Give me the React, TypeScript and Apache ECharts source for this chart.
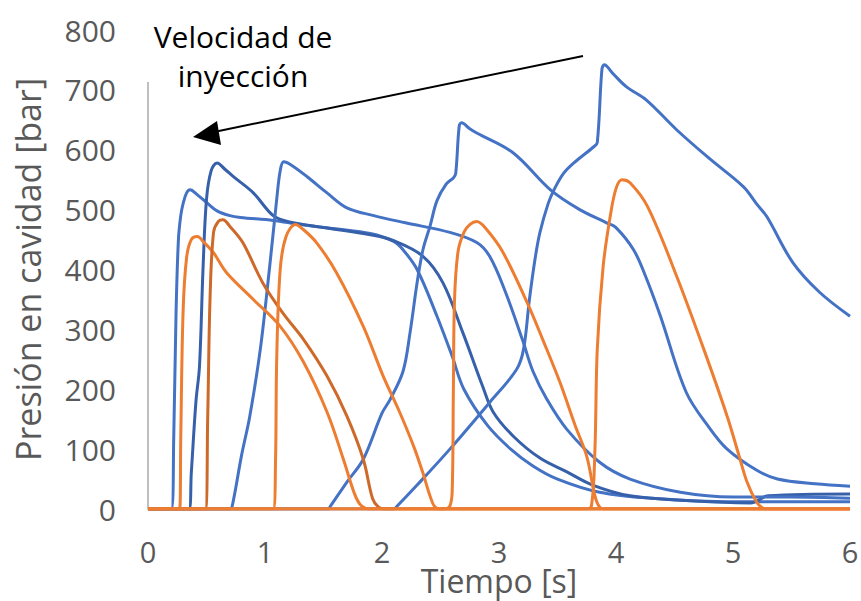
import React, { useEffect, useRef } from "react";
import * as echarts from "echarts";

// Tick settings
const xTicks = { min: 0, max: 6, interval: 1 };
const yTicks = { min: 0, max: 800, interval: 100 };

const xTitle = "Tiempo [s]";
const yTitle = "Presión en cavidad [bar]";
const noteLines = ["Velocidad de", "inyección"];

// Blue curves (one per injection speed)
const blue1: number[][] = [
  [0, 0], [0.2, 0], [0.22, 120], [0.24, 330], [0.26, 450], [0.28, 490], [0.3, 510], [0.33, 528], [0.36, 533],
  [0.42, 525], [0.5, 512], [0.59, 498], [0.7, 490], [0.79, 487], [1.07, 482], [1.3, 475], [1.6, 468],
  [1.9, 460], [2.1, 447], [2.18, 433], [2.3, 400], [2.47, 322], [2.6, 255], [2.7, 200], [2.9, 140],
  [3.1, 100], [3.29, 72], [3.5, 50], [3.86, 28], [4.3, 18], [5, 12], [6, 12],
];
const blue2: number[][] = [
  [0, 0], [0.35, 0], [0.37, 60], [0.41, 180], [0.44, 238], [0.47, 400], [0.5, 517], [0.54, 565], [0.59, 578],
  [0.66, 567], [0.73, 555], [0.9, 528], [1.07, 490], [1.2, 480], [1.5, 470], [1.9, 458], [2.1, 448],
  [2.35, 422], [2.52, 378], [2.69, 295], [2.86, 205], [2.95, 162], [3.12, 122], [3.35, 85], [3.58, 62],
  [3.8, 40], [4.12, 22], [4.6, 14], [5.15, 10], [5.3, 22], [6, 25],
];
const blue3: number[][] = [
  [0, 0], [0.7, 0], [0.72, 5], [0.8, 90], [0.87, 155], [0.96, 267], [1.04, 405], [1.1, 517], [1.13, 565],
  [1.16, 580], [1.22, 575], [1.36, 555], [1.53, 528], [1.7, 503], [1.93, 490], [2.2, 478], [2.58, 462],
  [2.81, 445], [2.92, 422], [3.05, 365], [3.2, 283], [3.29, 230], [3.41, 183], [3.58, 133], [3.86, 78],
  [4.12, 50], [4.55, 28], [5, 20], [5.5, 20], [6, 18],
];
const blue4: number[][] = [
  [0, 0], [1.54, 0], [1.56, 5], [1.7, 45], [1.84, 83], [2.0, 160], [2.07, 183], [2.18, 230], [2.24, 295],
  [2.3, 378], [2.35, 433], [2.41, 472], [2.47, 515], [2.55, 543], [2.61, 553], [2.63, 560], [2.66, 640],
  [2.68, 645], [2.75, 635], [2.81, 628], [3.12, 595], [3.44, 533], [3.69, 500], [3.92, 478], [4.0, 470],
  [4.15, 433], [4.25, 390], [4.38, 322], [4.6, 195], [4.8, 135], [4.95, 100], [5.2, 65], [5.38, 50],
  [5.7, 42], [6, 38],
];
const blue5: number[][] = [
  [0, 0], [2.1, 0], [2.13, 5], [2.3, 40], [2.58, 100], [2.92, 178], [3.15, 233], [3.21, 267], [3.26, 350],
  [3.31, 420], [3.35, 462], [3.42, 510], [3.47, 533], [3.55, 560], [3.64, 578], [3.81, 605], [3.84, 612],
  [3.88, 735], [3.9, 742], [3.97, 728], [4.09, 705], [4.26, 683], [4.52, 633], [4.8, 585], [5.09, 538],
  [5.2, 510], [5.29, 488], [5.51, 412], [5.74, 362], [6, 322],
];

// Orange curves
const orange1: number[][] = [
  [0, 0], [0.27, 0], [0.28, 120], [0.3, 330], [0.33, 420], [0.37, 450], [0.42, 455], [0.48, 445],
  [0.56, 428], [0.67, 395], [0.9, 350], [1.13, 305], [1.33, 245], [1.53, 162], [1.67, 83], [1.76, 28],
  [1.81, 8], [1.86, 1], [1.9, 0], [6, 0],
];
const orange2: number[][] = [
  [0, 0], [0.49, 0], [0.51, 150], [0.53, 350], [0.56, 462], [0.6, 480], [0.64, 483], [0.7, 472],
  [0.81, 445], [0.98, 378], [1.15, 328], [1.33, 283], [1.53, 222], [1.7, 155], [1.84, 83], [1.92, 17],
  [1.97, 3], [2.02, 0], [6, 0],
];
const orange3: number[][] = [
  [0, 0], [1.07, 0], [1.09, 80], [1.1, 250], [1.13, 400], [1.18, 455], [1.26, 475], [1.32, 468],
  [1.44, 445], [1.61, 395], [1.84, 305], [2.01, 222], [2.15, 162], [2.27, 105], [2.35, 60], [2.41, 22],
  [2.45, 4], [2.5, 0], [6, 0],
];
const orange4: number[][] = [
  [0, 0], [2.53, 0], [2.58, 5], [2.6, 30], [2.61, 200], [2.62, 350], [2.65, 430], [2.7, 462], [2.75, 475],
  [2.81, 480], [2.88, 470], [3.03, 430], [3.24, 345], [3.38, 280], [3.52, 212], [3.65, 140], [3.75, 88],
  [3.82, 22], [3.86, 3], [3.9, 0], [6, 0],
];
const orange5: number[][] = [
  [0, 0], [3.74, 0], [3.79, 5], [3.82, 100], [3.84, 267], [3.89, 405], [3.95, 488], [4.0, 535], [4.05, 550],
  [4.12, 545], [4.27, 505], [4.52, 388], [4.75, 267], [4.95, 155], [5.05, 90], [5.12, 45], [5.2, 12],
  [5.25, 2], [5.3, 0], [6, 0],
];

const BLUE = "#4472C4";
const BLUE_DARK = "#3760AA";
const ORANGE = "#ED7D31";
const ORANGE_DARK = "#CD6A2A";
const GRAY = "#595959";
const FONT = "'Open Sans', 'Liberation Sans', sans-serif";

function lineSeries(name: string, data: number[][], color: string) {
  return {
    name,
    type: "line",
    data,
    showSymbol: false,
    smooth: 0.35,
    lineStyle: { color, width: 3 },
    emphasis: { disabled: true },
  };
}

export default function App() {
  const ref = useRef<HTMLDivElement>(null);
  useEffect(() => {
    if (!ref.current) return;
    const chart = echarts.init(ref.current, null, { renderer: "svg" });
    chart.setOption({
      animation: false,
      backgroundColor: "#ffffff",
      grid: { left: 148, right: 11, top: 30, bottom: 92, containLabel: false, outerBoundsMode: "none" },
      xAxis: {
        type: "value",
        ...xTicks,
        axisLine: { show: false },
        axisTick: { show: false },
        splitLine: { show: false },
        axisLabel: { color: GRAY, fontSize: 29, lineHeight: 28, fontFamily: FONT, margin: 28 },
        name: xTitle,
        nameLocation: "middle",
        nameGap: 56,
        nameMoveOverlap: false,
        nameTextStyle: { color: GRAY, fontSize: 32, lineHeight: 30, fontFamily: FONT },
      },
      yAxis: {
        type: "value",
        ...yTicks,
        axisLine: { show: true, lineStyle: { color: "#BFBFBF", width: 2 } },
        axisTick: { show: false },
        splitLine: { show: false },
        axisLabel: { color: GRAY, fontSize: 30, fontFamily: FONT, margin: 32 },
        name: yTitle,
        nameLocation: "middle",
        nameGap: 103,
        nameMoveOverlap: false,
        nameRotate: 90,
        nameTextStyle: { color: GRAY, fontSize: 34, fontFamily: FONT },
      },
      series: [
        lineSeries("b1", blue1, BLUE),
        lineSeries("b2", blue2, BLUE_DARK),
        lineSeries("b3", blue3, BLUE),
        lineSeries("b4", blue4, BLUE),
        lineSeries("b5", blue5, BLUE),
        lineSeries("o1", orange1, ORANGE),
        lineSeries("o2", orange2, ORANGE_DARK),
        lineSeries("o3", orange3, ORANGE),
        lineSeries("o4", orange4, ORANGE),
        lineSeries("o5", orange5, ORANGE),
      ],
      graphic: [
        { type: "rect", shape: { x: 140, y: 10, width: 205, height: 72 }, style: { fill: "#ffffff" }, z: 50 },
        {
          type: "text", x: 243, y: 36, z: 60,
          style: { text: noteLines[0], fill: "#000000", font: `30px ${FONT}`, align: "center", verticalAlign: "middle" },
        },
        {
          type: "text", x: 243, y: 75, z: 60,
          style: { text: noteLines[1], fill: "#000000", font: `30px ${FONT}`, align: "center", verticalAlign: "middle" },
        },
        {
          type: "line", z: 60,
          shape: { x1: 583, y1: 56, x2: 214, y2: 132 },
          style: { stroke: "#000000", lineWidth: 2 },
        },
        {
          type: "polygon", z: 60,
          shape: { points: [[193, 137], [217, 121], [221, 145]] },
          style: { fill: "#000000" },
        },
      ],
    });
    return () => chart.dispose();
  }, []);
  return (
    <div
      ref={ref}
      style={{ position: "fixed", left: 0, top: 0, width: 861, height: 601, background: "#fff" }}
    />
  );
}
